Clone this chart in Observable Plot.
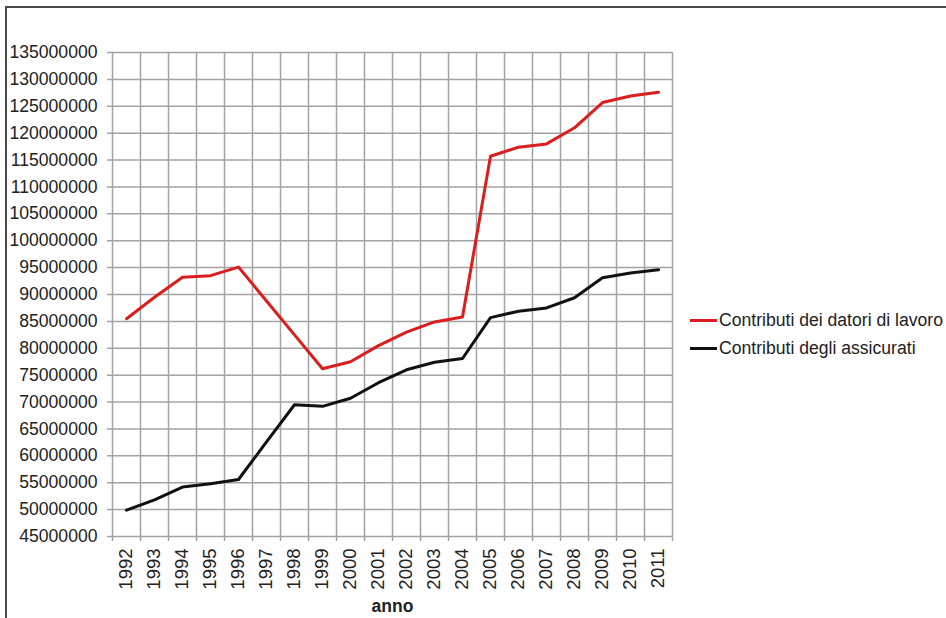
<!DOCTYPE html>
<html>
<head>
<meta charset="utf-8">
<script src="https://cdn.jsdelivr.net/npm/d3@7"></script>
<script src="https://cdn.jsdelivr.net/npm/@observablehq/plot@0.6"></script>
<style>
  html, body { margin: 0; padding: 0; background: #fff; overflow: hidden; width: 946px; height: 618px; }
  #wrap { position: relative; width: 946px; height: 618px; font-family: "Liberation Sans", Arial, sans-serif; color: #222; }
  #frame { position: absolute; left: 5px; top: 6px; width: 2000px; height: 2000px; border-left: 2px solid #4a4a4a; border-top: 2px solid #4a4a4a; pointer-events: none; }
  #chart { position: absolute; left: 0; top: 0; }
  #legend { position: absolute; left: 690px; top: 306px; font-size: 17.6px; }
  .row { display: flex; align-items: center; height: 28px; white-space: nowrap; }
  .sw { width: 27px; height: 3px; margin-right: 2px; }
</style>
</head>
<body>
<div id="wrap">
  <div id="chart"></div>
  <div id="legend"></div>
  <div id="frame"></div>
</div>
<script>
const years = [1992, 1993, 1994, 1995, 1996, 1997, 1998, 1999, 2000, 2001, 2002, 2003, 2004, 2005, 2006, 2007, 2008, 2009, 2010, 2011];
const datori = [85500000, 89500000, 93200000, 93500000, 95100000, 88800000, 82500000, 76200000, 77500000, 80500000, 83000000, 84900000, 85800000, 115700000, 117400000, 118000000, 121000000, 125700000, 126900000, 127600000];
const assicurati = [49900000, 51800000, 54200000, 54800000, 55600000, 62600000, 69500000, 69200000, 70700000, 73600000, 76000000, 77400000, 78100000, 85700000, 86900000, 87500000, 89400000, 93100000, 94000000, 94600000];
const yTicks = [45000000, 50000000, 55000000, 60000000, 65000000, 70000000, 75000000, 80000000, 85000000, 90000000, 95000000, 100000000, 105000000, 110000000, 115000000, 120000000, 125000000, 130000000, 135000000];
const seriesNames = ["Contributi dei datori di lavoro", "Contributi degli assicurati"];
const seriesColors = ["#dc1d1d", "#111111"];
const xTitle = "anno";

const data = years.flatMap((y, i) => [
  {anno: y, valore: datori[i], serie: seriesNames[0]},
  {anno: y, valore: assicurati[i], serie: seriesNames[1]}
]);
const bounds = [...years.map(y => y - 0.5), years[years.length - 1] + 0.5];

const chart = Plot.plot({
  width: 946,
  height: 618,
  marginTop: 52,
  marginLeft: 112,
  marginRight: 274,
  marginBottom: 82,
  style: {fontFamily: "'Liberation Sans', Arial, sans-serif", fontSize: "17.6px", color: "#222", background: "transparent", overflow: "visible"},
  x: {domain: [bounds[0], bounds[bounds.length - 1]]},
  y: {domain: [yTicks[0], yTicks[yTicks.length - 1]]},
  color: {domain: seriesNames, range: seriesColors},
  marks: [
    Plot.ruleY(yTicks, {stroke: "#a3a3a3", strokeWidth: 1.5, insetLeft: -5}),
    Plot.ruleX(bounds, {stroke: "#a3a3a3", strokeWidth: 1.5, insetBottom: -5}),
    Plot.axisY({ticks: yTicks, tickSize: 0, tickPadding: 15, tickFormat: d => String(d), label: null, fill: "#222"}),
    Plot.axisX({ticks: years, tickSize: 0, tickPadding: 12, tickRotate: -90, tickFormat: d => String(d), label: null, fill: "#222", fontSize: 18.5}),
    Plot.line(data, {x: "anno", y: "valore", z: "serie", stroke: "serie", strokeWidth: 3, strokeLinejoin: "round", strokeLinecap: "round"}),
    Plot.text([xTitle], {text: d => d, frameAnchor: "bottom", dy: 75, fontWeight: "bold", fontSize: 17.5, fill: "#222"})
  ]
});
document.getElementById("chart").appendChild(chart);

const legend = document.getElementById("legend");
seriesNames.forEach((name, i) => {
  const row = document.createElement("div");
  row.className = "row";
  const sw = document.createElement("span");
  sw.className = "sw";
  sw.style.background = seriesColors[i];
  const t = document.createElement("span");
  t.textContent = name;
  row.appendChild(sw);
  row.appendChild(t);
  legend.appendChild(row);
});
</script>
</body>
</html>
